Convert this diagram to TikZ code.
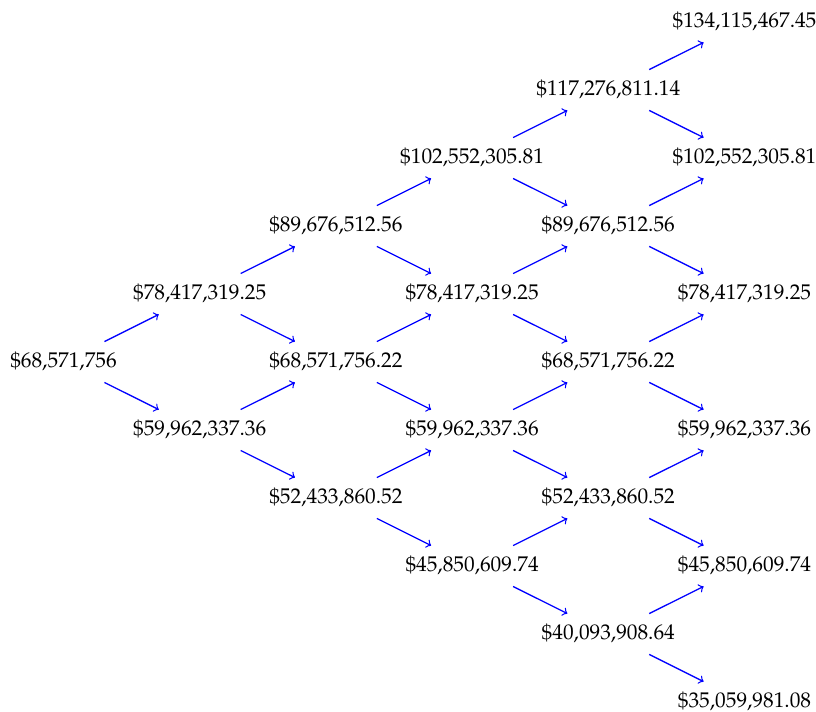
\documentclass[tikz,border=0pt]{standalone}
\usepackage[T1]{fontenc}
\usepackage{mathpazo}
\tikzset{
  val/.style={inner xsep=3pt, inner ysep=4.9pt, text height=7pt, text depth=2pt},
  link/.style={draw=blue, line width=0.6pt, ->},
}
\begin{document}
\begin{tikzpicture}[x=0.4695pt, y=-0.4695pt]
\useasboundingbox (0,0) rectangle (816,711);
% step 0
\node[val] (n-0-0) at (63.5,362) {\$68,571,756};
% step 1
\node[val] (n-1-1) at (199.7,294) {\$78,417,319.25};
\node[val] (n-1-0) at (199.7,430) {\$59,962,337.36};
% step 2
\node[val] (n-2-2) at (335.9,226) {\$89,676,512.56};
\node[val] (n-2-1) at (335.9,362) {\$68,571,756.22};
\node[val] (n-2-0) at (335.9,498) {\$52,433,860.52};
% step 3
\node[val] (n-3-3) at (472.1,158) {\$102,552,305.81};
\node[val] (n-3-2) at (472.1,294) {\$78,417,319.25};
\node[val] (n-3-1) at (472.1,430) {\$59,962,337.36};
\node[val] (n-3-0) at (472.1,566) {\$45,850,609.74};
% step 4
\node[val] (n-4-4) at (608.3,90) {\$117,276,811.14};
\node[val] (n-4-3) at (608.3,226) {\$89,676,512.56};
\node[val] (n-4-2) at (608.3,362) {\$68,571,756.22};
\node[val] (n-4-1) at (608.3,498) {\$52,433,860.52};
\node[val] (n-4-0) at (608.3,634) {\$40,093,908.64};
% step 5
\node[val] (n-5-5) at (744.5,22) {\$134,115,467.45};
\node[val] (n-5-4) at (744.5,158) {\$102,552,305.81};
\node[val] (n-5-3) at (744.5,294) {\$78,417,319.25};
\node[val] (n-5-2) at (744.5,430) {\$59,962,337.36};
\node[val] (n-5-1) at (744.5,566) {\$45,850,609.74};
\node[val] (n-5-0) at (744.5,702) {\$35,059,981.08};
% edges
\foreach \i in {0,...,4}{
  \pgfmathtruncatemacro{\ni}{\i+1}
  \foreach \j in {0,...,\i}{
    \pgfmathtruncatemacro{\nj}{\j+1}
    \draw[link] (n-\i-\j) -- (n-\ni-\nj);
    \draw[link] (n-\i-\j) -- (n-\ni-\j);
  }
}
\end{tikzpicture}
\end{document}
